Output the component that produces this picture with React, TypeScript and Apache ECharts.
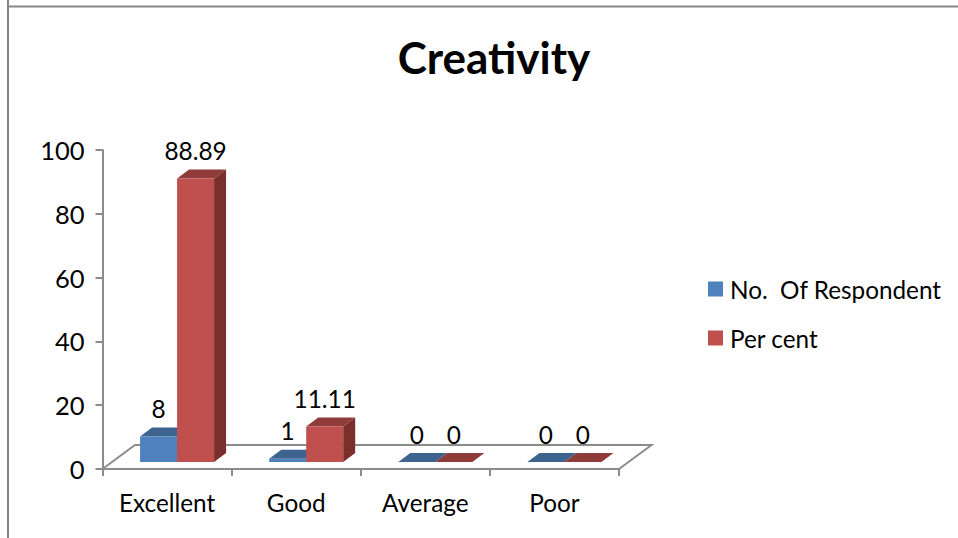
import React, { useEffect, useRef } from "react";
import * as echarts from "echarts";

const categories = ["Excellent", "Good", "Average", "Poor"];
const respondents = [8, 1, 0, 0];
const perCent = [88.89, 11.11, 0, 0];
const seriesNames = ["No.  Of Respondent", "Per cent"];
const titleText = "Creativity";
const FONT = "Lato, Carlito, sans-serif";

const BAR_W = 37;
const DX = 12;
const DY = 9;
const LIFT = 7;
const SHIFT = 10;
const FLOOR_DX = 32.5;
const FLOOR_DY = 24;
const AXIS = "#8c8c8c";

function barItem(front: string, top: string, side: string, offset: number) {
  return (_params: any, api: any) => {
    const idx = api.value(0);
    const val = api.value(1);
    const base = api.coord([idx, 0]);
    const tip = api.coord([idx, val]);
    const x0 = base[0] + SHIFT + offset;
    const x1 = x0 + BAR_W;
    const yb = base[1] - LIFT;
    const yt = tip[1] - LIFT;
    const children: any[] = [];
    children.push({
      type: "polygon",
      shape: { points: [[x0, yt], [x0 + DX, yt - DY], [x1 + DX, yt - DY], [x1, yt]] },
      style: { fill: top },
    });
    children.push({
      type: "polygon",
      shape: { points: [[x1, yb], [x1 + DX, yb - DY], [x1 + DX, yt - DY], [x1, yt]] },
      style: { fill: side },
    });
    if (yb - yt > 0) {
      children.push({
        type: "rect",
        shape: { x: x0, y: yt, width: BAR_W, height: yb - yt },
        style: { fill: front },
      });
    }
    children.push({
      type: "text",
      style: {
        x: (x0 + x1) / 2,
        y: yt - 28,
        text: String(val),
        fill: "#000",
        font: `24.4px ${FONT}`,
        align: "center",
        verticalAlign: "middle",
      },
    });
    return { type: "group", children };
  };
}

function floorItem(_params: any, api: any) {
  const band = api.size([1, 0])[0];
  const l = api.coord([0, 0]);
  const r = api.coord([categories.length - 1, 0]);
  const xl = l[0] - band / 2;
  const xr = r[0] + band / 2;
  const y = l[1];
  return {
    type: "polyline",
    shape: {
      points: [
        [xl, y],
        [xl + FLOOR_DX, y - FLOOR_DY],
        [xr + FLOOR_DX, y - FLOOR_DY],
        [xr, y],
      ],
    },
    style: { fill: "none", stroke: AXIS, lineWidth: 2 },
  };
}

export default function App() {
  const ref = useRef<HTMLDivElement>(null);
  useEffect(() => {
    const chart = echarts.init(ref.current!, null, { renderer: "svg" });
    chart.setOption({
      animation: false,
      backgroundColor: "#fff",
      title: {
        text: titleText,
        left: 489,
        top: 30,
        textAlign: "center",
        textStyle: { fontFamily: FONT, fontSize: 44, fontWeight: "bold", color: "#000" },
      },
      legend: {
        left: 708,
        top: 277,
        padding: 0,
        orient: "vertical",
        itemWidth: 15,
        itemHeight: 15,
        itemGap: 25,
        icon: "rect",
        data: seriesNames,
        textStyle: { fontFamily: FONT, fontSize: 24.3, color: "#000", padding: [0, 0, 0, 2] },
      },
      grid: { left: 102.5, right: 339, top: 150, bottom: 69, containLabel: false },
      xAxis: {
        type: "category",
        data: categories,
        axisLine: { lineStyle: { color: AXIS, width: 2 } },
        axisTick: { show: true, length: 7, alignWithLabel: false, lineStyle: { color: AXIS, width: 2 } },
        axisLabel: { fontFamily: FONT, fontSize: 24.3, color: "#000", margin: 21 },
      },
      yAxis: {
        type: "value",
        min: 0,
        max: 100,
        interval: 20,
        splitLine: { show: false },
        axisLine: { show: true, lineStyle: { color: AXIS, width: 2 } },
        axisTick: { show: true, length: 7, lineStyle: { color: AXIS, width: 2 } },
        axisLabel: { fontFamily: FONT, fontSize: 25.5, color: "#000", margin: 18 },
      },
      graphic: [
        { type: "line", shape: { x1: 8, y1: 0, x2: 8, y2: 538 }, z: -1, style: { stroke: "#868686", lineWidth: 2 }, silent: true },
        { type: "line", shape: { x1: 7, y1: 6.5, x2: 958, y2: 6.5 }, z: -1, style: { stroke: "#868686", lineWidth: 2 }, silent: true },
      ],
      series: [
        {
          type: "custom",
          name: "floor",
          silent: true,
          z: 1,
          data: [[0, 0]],
          encode: { x: 0, y: 1 },
          clip: false,
          renderItem: floorItem,
        },
        {
          type: "custom",
          name: seriesNames[0],
          silent: true,
          z: 2,
          itemStyle: { color: "#4F81BD" },
          data: respondents.map((v, i) => [i, v]),
          encode: { x: 0, y: 1 },
          clip: false,
          renderItem: barItem("#4F81BD", "#3C648F", "#335578", -BAR_W),
        },
        {
          type: "custom",
          name: seriesNames[1],
          silent: true,
          z: 3,
          itemStyle: { color: "#C0504D" },
          data: perCent.map((v, i) => [i, v]),
          encode: { x: 0, y: 1 },
          clip: false,
          renderItem: barItem("#C0504D", "#8E3B39", "#7A2F2D", 0),
        },
      ],
    });
    return () => chart.dispose();
  }, []);
  return (
    <div
      ref={ref}
      style={{ position: "absolute", left: 0, top: 0, width: 958, height: 538 }}
    />
  );
}
